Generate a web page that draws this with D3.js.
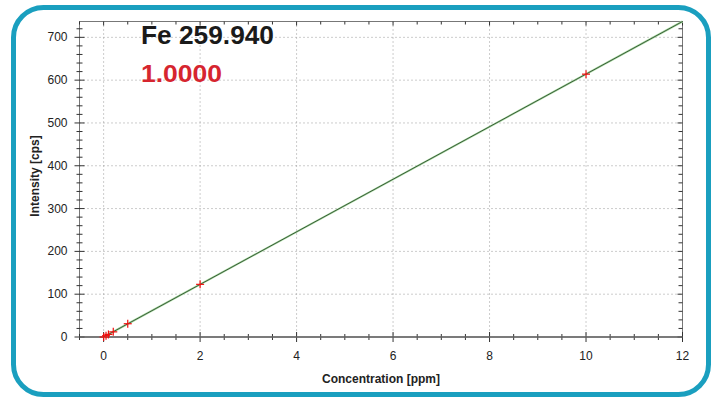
<!DOCTYPE html>
<html><head><meta charset="utf-8">
<script src="https://cdn.jsdelivr.net/npm/d3@7"></script>
<style>body{margin:0;background:#fff}svg{display:block;font-family:"Liberation Sans",Arial,sans-serif}</style>
</head><body><svg id="c" width="712" height="400"></svg>
<script>
const concentrations = [0, 0.05, 0.1, 0.2, 0.5, 2, 10];
const intensities = [0, 3, 6, 12, 31, 123, 614];
const fitLine = [[0, 0], [12, 737]];
const xTicks = [0, 2, 4, 6, 8, 10, 12];
const yTicks = [0, 100, 200, 300, 400, 500, 600, 700];
const titleText = "Fe 259.940";
const corrText = "1.0000";

const svg = d3.select("#c");
svg.append("rect").attr("x",13.5).attr("y",7.5).attr("width",695).attr("height",387)
  .attr("rx",30).attr("ry",30).attr("fill","#fff").attr("stroke","#1a9fbf").attr("stroke-width",5);

const L=79.5, R=682.5, T=21.5, B=337;
const x = d3.scaleLinear().domain([-0.5,12]).range([L,R]);
const y = d3.scaleLinear().domain([0,737]).range([B,T]);

const g = svg.append("g");
// grid
g.selectAll(".gx").data(xTicks.filter(d=>d<12)).join("line")
  .attr("x1",d=>x(d)).attr("x2",d=>x(d)).attr("y1",T).attr("y2",B)
  .attr("stroke","#999").attr("stroke-dasharray","1,3");
g.selectAll(".gy").data(yTicks.filter(d=>d>0)).join("line")
  .attr("x1",L).attr("x2",R).attr("y1",d=>y(d)).attr("y2",d=>y(d))
  .attr("stroke","#999").attr("stroke-dasharray","1,3");

// frame
g.append("rect").attr("x",L).attr("y",T).attr("width",R-L).attr("height",B-T)
  .attr("fill","none").attr("stroke","#777").attr("stroke-width",1);

const xMinor = d3.range(-0.5,12.01,0.5);
const yMinor = d3.range(0,737,20);
g.selectAll(".bt").data(xMinor).join("line")
  .attr("x1",d=>x(d)).attr("x2",d=>x(d))
  .attr("y1",d=>xTicks.includes(d)?B-5:B-3).attr("y2",d=>xTicks.includes(d)?B+5:B+3)
  .attr("stroke","#333");
g.selectAll(".tt").data(xMinor).join("line")
  .attr("x1",d=>x(d)).attr("x2",d=>x(d))
  .attr("y1",T).attr("y2",d=>xTicks.includes(d)?T+4:T+3).attr("stroke","#333");
g.selectAll(".lt").data(yMinor).join("line")
  .attr("y1",d=>y(d)).attr("y2",d=>y(d))
  .attr("x1",d=>yTicks.includes(d)?L-5:L-3).attr("x2",d=>yTicks.includes(d)?L+5:L+3)
  .attr("stroke","#333");
g.selectAll(".rt").data(yMinor).join("line")
  .attr("y1",d=>y(d)).attr("y2",d=>y(d))
  .attr("x1",d=>yTicks.includes(d)?R-5:R-4).attr("x2",R).attr("stroke","#333");
g.append("line").attr("x1",L).attr("x2",R).attr("y1",B).attr("y2",B).attr("stroke","#666").attr("stroke-width",1.5);

g.selectAll(".xl").data(xTicks).join("text").attr("x",d=>x(d)).attr("y",B+23)
  .attr("text-anchor","middle").attr("font-size",12).attr("fill","#222").text(d=>d);
g.selectAll(".yl").data(yTicks).join("text").attr("x",L-12).attr("y",d=>y(d)+4)
  .attr("text-anchor","end").attr("font-size",12).attr("fill","#222").text(d=>d);

svg.append("text").attr("x",381).attr("y",383).attr("text-anchor","middle")
  .attr("font-size",12).attr("font-weight","bold").attr("fill","#222").text("Concentration [ppm]");
svg.append("text").attr("transform","translate(39,176) rotate(-90)").attr("text-anchor","middle")
  .attr("font-size",12).attr("font-weight","bold").attr("fill","#222").text("Intensity [cps]");

const line = d3.line().x(d=>x(d[0])).y(d=>y(d[1]));
g.append("path").attr("d",line(fitLine)).attr("stroke","#a8dca0").attr("stroke-width",2).attr("fill","none");
g.append("path").attr("d",line(fitLine)).attr("stroke","#1f3a22").attr("stroke-width",0.8).attr("fill","none");

const pts = g.selectAll(".pt").data(concentrations.map((c,i)=>[c,intensities[i]])).join("g")
  .attr("transform",d=>`translate(${x(d[0])},${y(d[1])})`);
pts.append("line").attr("x1",-4).attr("x2",4).attr("stroke","#f01010").attr("stroke-width",1.2);
pts.append("line").attr("y1",-4).attr("y2",4).attr("stroke","#f01010").attr("stroke-width",1.2);

svg.append("text").attr("x",141).attr("y",44).attr("font-size",25).attr("font-weight","bold")
  .attr("textLength",133).attr("lengthAdjust","spacingAndGlyphs")
  .attr("fill","#1a1a1a").text(titleText);
svg.append("text").attr("x",141).attr("y",82).attr("font-size",24).attr("font-weight","bold")
  .attr("textLength",81).attr("lengthAdjust","spacingAndGlyphs")
  .attr("fill","#d6252f").text(corrText);
</script></body></html>
